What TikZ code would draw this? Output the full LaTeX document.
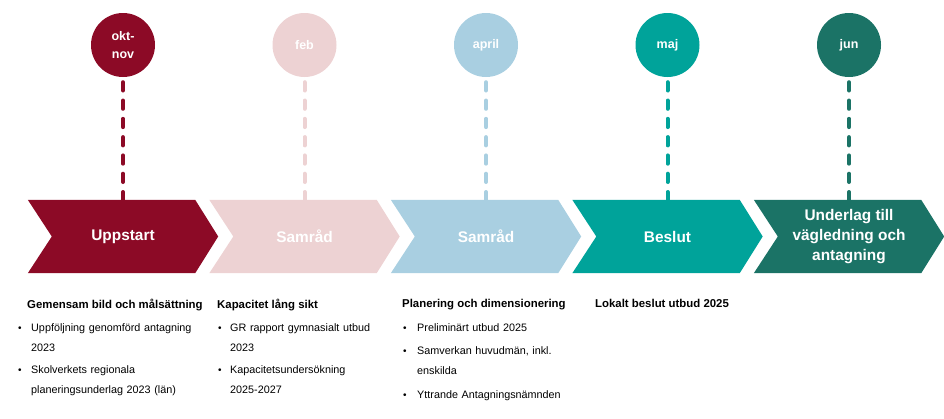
\documentclass[tikz,border=0pt]{standalone}
\usepackage{fontspec}
\setmainfont{Liberation Sans}
\usepackage{tikz}
\usetikzlibrary{positioning,backgrounds}

\definecolor{gbred}{HTML}{8C0A26}
\definecolor{gbpink}{HTML}{EDD2D3}
\definecolor{gbblue}{HTML}{A9CFE1}
\definecolor{gbteal}{HTML}{00A39A}
\definecolor{gbgreen}{HTML}{1B7366}

\begin{document}
\begin{tikzpicture}[
    x=1pt, y=-1pt,
    month/.style={circle, fill=#1, minimum size=64pt, inner sep=0pt, text=white, align=center, font=\fontsize{12.5}{18.3}\selectfont\bfseries},
    stage/.style={rectangle, minimum width=190pt, minimum height=73pt, inner sep=0pt, text=white, align=center, font=\fontsize{15.4}{19.7}\selectfont\bfseries},
    tick/.style={#1, line width=4pt, line cap=round, dash pattern=on 8.3pt off 10pt},
    heading/.style={anchor=base west, inner sep=0pt, font=\fontsize{11.4}{14}\selectfont\bfseries},
    item/.style={anchor=base west, inner sep=0pt, text width=190pt, align=left, font=\fontsize{10.8}{20.5}\selectfont},
    bullet/.style={anchor=base west, inner sep=0pt, font=\fontsize{10}{12}\selectfont}
]
\useasboundingbox (0,0) rectangle (944,418);

% months
\node[month=gbred] (okt) at (123,45) {okt-\\nov};
\node[month=gbpink] (feb) at (304.5,45) {feb};
\node[month=gbblue] (apr) at (486,45) {april};
\node[month=gbteal] (maj) at (667.5,45) {maj};
\node[month=gbgreen] (jun) at (849,45) {jun};

% stages
\node[stage] (uppstart) at (123,236.5) {Uppstart};
\node[stage] (samrad1) at (304.5,236.5) {Samråd};
\node[stage] (samrad2) at (486,236.5) {Samråd};
\node[stage] (beslut) at (667.5,236.5) {Beslut};
\node[stage] (underlag) at (849,236.5) {Underlag till\\vägledning och\\antagning};

\begin{scope}[on background layer]
\fill[gbred] (uppstart.north west) -- ([xshift=-23pt]uppstart.north east) -- (uppstart.east) -- ([xshift=-23pt]uppstart.south east) -- (uppstart.south west) -- ([xshift=24pt]uppstart.west) -- cycle;
\fill[gbpink] (samrad1.north west) -- ([xshift=-23pt]samrad1.north east) -- (samrad1.east) -- ([xshift=-23pt]samrad1.south east) -- (samrad1.south west) -- ([xshift=24pt]samrad1.west) -- cycle;
\fill[gbblue] (samrad2.north west) -- ([xshift=-23pt]samrad2.north east) -- (samrad2.east) -- ([xshift=-23pt]samrad2.south east) -- (samrad2.south west) -- ([xshift=24pt]samrad2.west) -- cycle;
\fill[gbteal] (beslut.north west) -- ([xshift=-23pt]beslut.north east) -- (beslut.east) -- ([xshift=-23pt]beslut.south east) -- (beslut.south west) -- ([xshift=24pt]beslut.west) -- cycle;
\fill[gbgreen] (underlag.north west) -- ([xshift=-23pt]underlag.north east) -- (underlag.east) -- ([xshift=-23pt]underlag.south east) -- (underlag.south west) -- ([xshift=24pt]underlag.west) -- cycle;
\end{scope}

\draw[tick=gbred] ([yshift=-5pt]okt.south) -- (uppstart.north);
\draw[tick=gbpink] ([yshift=-5pt]feb.south) -- (samrad1.north);
\draw[tick=gbblue] ([yshift=-5pt]apr.south) -- (samrad2.north);
\draw[tick=gbteal] ([yshift=-5pt]maj.south) -- (beslut.north);
\draw[tick=gbgreen] ([yshift=-5pt]jun.south) -- (underlag.north);

% notes
\node[heading] (gemensam) at (27,308) {Gemensam bild och målsättning};
\node[bullet] (gem-b1) at (18,331) {\textbullet};
\node[item] (gem-i1) at (31,331) {Uppföljning genomförd antagning\\2023};
\node[bullet] (gem-b2) at (18,373) {\textbullet};
\node[item] (gem-i2) at (31,373) {Skolverkets regionala\\planeringsunderlag 2023 (län)};

\node[heading] (kapacitet) at (217,308) {Kapacitet lång sikt};
\node[bullet] (kap-b1) at (218,331) {\textbullet};
\node[item] (kap-i1) at (230,331) {GR rapport gymnasialt utbud\\2023};
\node[bullet] (kap-b2) at (218,373) {\textbullet};
\node[item] (kap-i2) at (230,373) {Kapacitetsundersökning\\2025-2027};

\node[heading] (planering) at (402,307) {Planering och dimensionering};
\node[bullet] (plan-b1) at (403,331) {\textbullet};
\node[item] (plan-i1) at (417,331) {Preliminärt utbud 2025};
\node[bullet] (plan-b2) at (403,354) {\textbullet};
\node[item] (plan-i2) at (417,354) {Samverkan huvudmän, inkl.\\enskilda};
\node[bullet] (plan-b3) at (403,398) {\textbullet};
\node[item] (plan-i3) at (417,398) {Yttrande Antagningsnämnden};

\node[heading] (lokalt) at (595,307) {Lokalt beslut utbud 2025};

\end{tikzpicture}
\end{document}
